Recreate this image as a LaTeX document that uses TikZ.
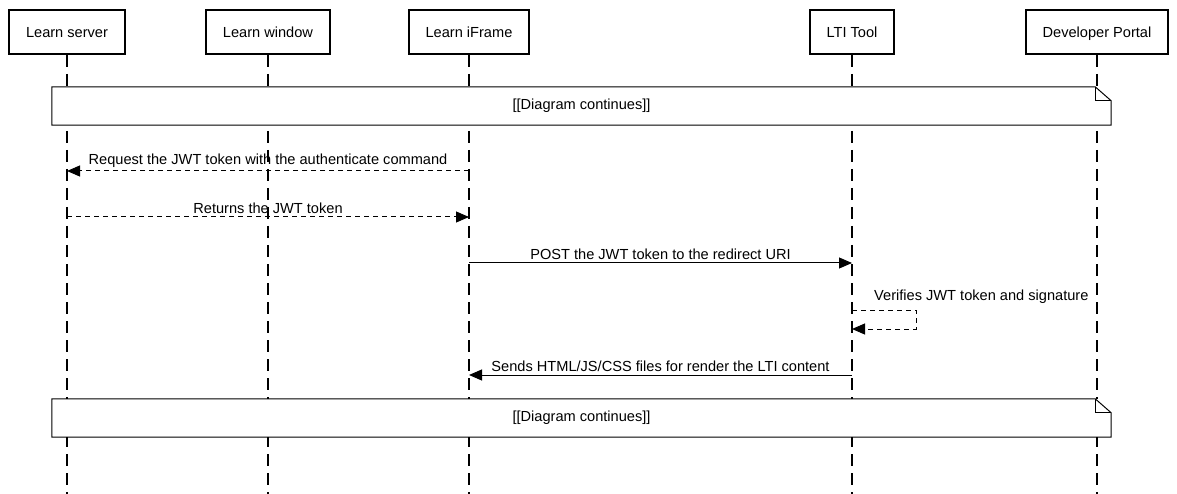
\documentclass[tikz,border=0pt]{standalone}
\usepackage{fontspec}
\setmainfont{Liberation Sans}
\usetikzlibrary{arrows.meta}

\tikzset{
    txt/.style={font=\fontsize{14.6}{17}\selectfont},
    actor/.style={txt, draw, line width=2pt, minimum height=44pt, inner xsep=17pt,
        text height=13pt, text depth=1.5pt},
    lifeline/.style={line width=1.2pt, dash pattern=on 12pt off 7pt},
    msg/.style={line width=1pt, -{Triangle[length=13pt,width=11pt]}},
    reply/.style={msg, dash pattern=on 5pt off 4pt},
    msglabel/.style={txt, above, inner sep=3pt},
    notebox/.style={txt, fill=white, minimum width=1059pt, minimum height=38pt}
}

\begin{document}
\begin{tikzpicture}[x=1pt, y=-1pt]
        \useasboundingbox (0,0) rectangle (1177,494);

        \node[actor] (srv) at (67,32) {Learn server};
        \node[actor] (win) at (268,32) {Learn window};
        \node[actor] (ifr) at (469,32) {Learn iFrame};
        \node[actor] (lti) at (852,32) {LTI Tool};
        \node[actor] (dev) at (1097,32) {Developer Portal};

        \coordinate (bot) at (0,494);
        \draw[lifeline] (srv.south) -- (srv |- bot);
        \draw[lifeline] (win.south) -- (win |- bot);
        \draw[lifeline] (ifr.south) -- (ifr |- bot);
        \draw[lifeline] (lti.south) -- (lti |- bot);
        \draw[lifeline] (dev.south) -- (dev |- bot);

        % notes
        \node[notebox] (noteA) at (581.5,106) {[[Diagram continues]]};
        \node[notebox] (noteB) at (581.5,418) {[[Diagram continues]]};
        \foreach \n in {noteA, noteB} {
            \draw[line width=1pt] (\n.north west) -- ([xshift=-16pt]\n.north east)
                -- ([yshift=-14pt]\n.north east) -- (\n.south east) -- (\n.south west) -- cycle;
            \draw[line width=1pt] ([xshift=-16pt]\n.north east) -- ++(0,14) -- ++(16,0);
        }

        % messages
        \coordinate (m1) at (0,171);
        \coordinate (m2) at (0,217);
        \coordinate (m3) at (0,263);
        \coordinate (m4) at (0,310);
        \coordinate (m4b) at (0,329);
        \coordinate (m5) at (0,375);

        \draw[reply] (ifr |- m1) -- node[msglabel] {Request the JWT token with the authenticate command} (srv |- m1);
        \draw[reply] (srv |- m2) -- node[msglabel] {Returns the JWT token} (ifr |- m2);
        \draw[msg] (ifr |- m3) -- node[msglabel] {POST the JWT token to the redirect URI} (lti |- m3);
        \draw[reply] (lti |- m4) -- ++(64,0) |- (lti |- m4b);
        \node[txt, anchor=west, inner sep=0pt] (verify) at (874,297) {Verifies JWT token and signature};
        \draw[msg] (lti |- m5) -- node[msglabel] {Sends HTML/JS/CSS files for render the LTI content} (ifr |- m5);
    \end{tikzpicture}
\end{document}
